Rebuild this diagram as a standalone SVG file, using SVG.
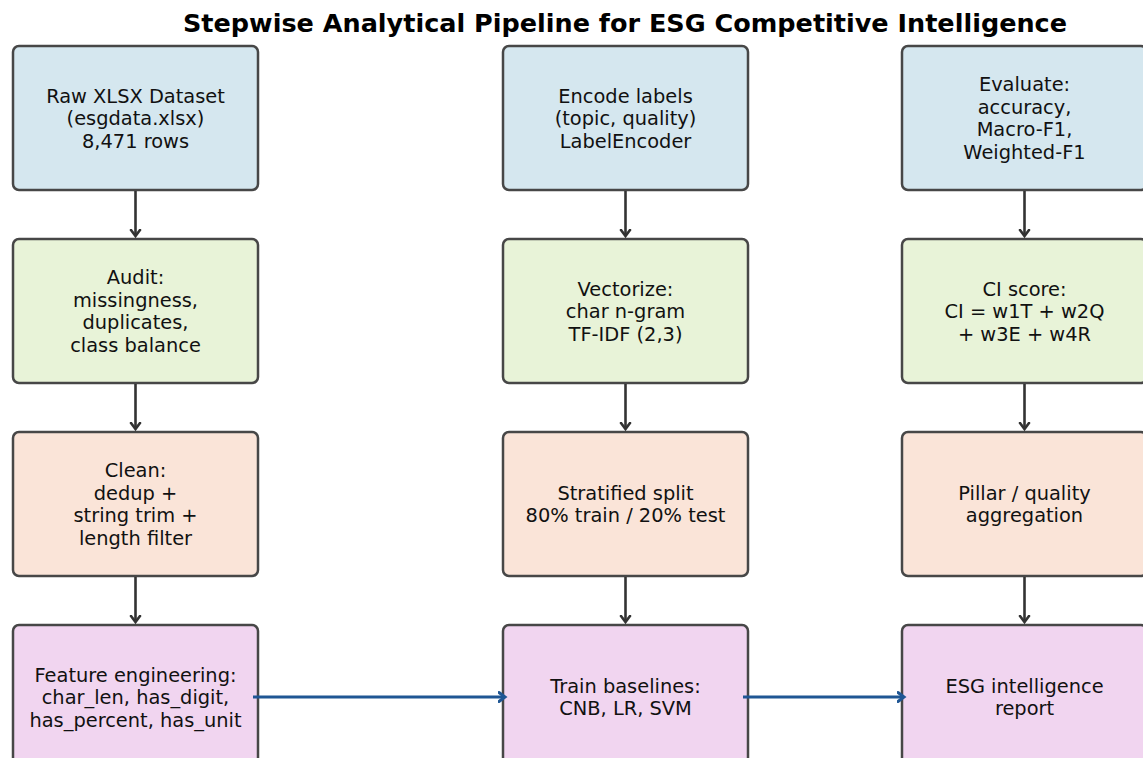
<svg xmlns="http://www.w3.org/2000/svg" width="1143" height="758" viewBox="0 0 1143 758">
<style>
.box{stroke:#474747;stroke-width:2.5}
.c1{fill:#d5e7ef}.c2{fill:#e8f3d8}.c3{fill:#fae4d8}.c4{fill:#f1d5f0}
text{font-family:"DejaVu Sans",sans-serif;font-size:19.4px;fill:#111;text-anchor:middle}
.title{font-size:25.5px;font-weight:bold;fill:#000}
.v{stroke:#333;stroke-width:2.6;fill:none}
.h{stroke:#1f5694;stroke-width:3;fill:none}
</style>
<defs>
<marker id="ad" markerWidth="14" markerHeight="14" viewBox="-7 -7 14 14" refX="0" refY="0" orient="auto" markerUnits="userSpaceOnUse">
<path d="M-6,-4.5 L0,0 L-6,4.5" fill="none" stroke="#333" stroke-width="2.6" stroke-linecap="round" stroke-linejoin="miter"/>
</marker>
<marker id="ab" markerWidth="14" markerHeight="14" viewBox="-7 -7 14 14" refX="0" refY="0" orient="auto" markerUnits="userSpaceOnUse">
<path d="M-6,-4.5 L0,0 L-6,4.5" fill="none" stroke="#1f5694" stroke-width="3" stroke-linecap="round"/>
</marker>
</defs>
<rect width="1143" height="758" fill="#fff"/>
<text class="title" x="625" y="32">Stepwise Analytical Pipeline for ESG Competitive Intelligence</text>

<g id="n1"><rect class="box c1" x="13" y="46" width="245" height="144" rx="6"/>
<text x="135.5" y="102.5">Raw XLSX Dataset</text><text x="135.5" y="125">(esgdata.xlsx)</text><text x="135.5" y="147.5">8,471 rows</text></g>
<g id="n2"><rect class="box c2" x="13" y="239" width="245" height="144" rx="6"/>
<text x="135.5" y="284.25">Audit:</text><text x="135.5" y="306.75">missingness,</text><text x="135.5" y="329.25">duplicates,</text><text x="135.5" y="351.75">class balance</text></g>
<g id="n3"><rect class="box c3" x="13" y="432" width="245" height="144" rx="6"/>
<text x="135.5" y="477.25">Clean:</text><text x="135.5" y="499.75">dedup +</text><text x="135.5" y="522.25">string trim +</text><text x="135.5" y="544.75">length filter</text></g>
<g id="n4"><rect class="box c4" x="13" y="625" width="245" height="144" rx="6"/>
<text x="135.5" y="681.5">Feature engineering:</text><text x="135.5" y="704">char_len, has_digit,</text><text x="135.5" y="726.5">has_percent, has_unit</text></g>

<g id="n5"><rect class="box c1" x="503" y="46" width="245" height="144" rx="6"/>
<text x="625.5" y="102.5">Encode labels</text><text x="625.5" y="125">(topic, quality)</text><text x="625.5" y="147.5">LabelEncoder</text></g>
<g id="n6"><rect class="box c2" x="503" y="239" width="245" height="144" rx="6"/>
<text x="625.5" y="295.5">Vectorize:</text><text x="625.5" y="318">char n-gram</text><text x="625.5" y="340.5">TF-IDF (2,3)</text></g>
<g id="n7"><rect class="box c3" x="503" y="432" width="245" height="144" rx="6"/>
<text x="625.5" y="499.75">Stratified split</text><text x="625.5" y="522.25">80% train / 20% test</text></g>
<g id="n8"><rect class="box c4" x="503" y="625" width="245" height="144" rx="6"/>
<text x="625.5" y="692.75">Train baselines:</text><text x="625.5" y="715.25">CNB, LR, SVM</text></g>

<g id="n9"><rect class="box c1" x="902" y="46" width="245" height="144" rx="6"/>
<text x="1024.5" y="91.25">Evaluate:</text><text x="1024.5" y="113.75">accuracy,</text><text x="1024.5" y="136.25">Macro-F1,</text><text x="1024.5" y="158.75">Weighted-F1</text></g>
<g id="n10"><rect class="box c2" x="902" y="239" width="245" height="144" rx="6"/>
<text x="1024.5" y="295.5">CI score:</text><text x="1024.5" y="318">CI = w1T + w2Q</text><text x="1024.5" y="340.5">+ w3E + w4R</text></g>
<g id="n11"><rect class="box c3" x="902" y="432" width="245" height="144" rx="6"/>
<text x="1024.5" y="499.75">Pillar / quality</text><text x="1024.5" y="522.25">aggregation</text></g>
<g id="n12"><rect class="box c4" x="902" y="625" width="245" height="144" rx="6"/>
<text x="1024.5" y="692.75">ESG intelligence</text><text x="1024.5" y="715.25">report</text></g>

<g id="connectors">
<line class="v" x1="135.5" y1="191" x2="135.5" y2="236" marker-end="url(#ad)"/>
<line class="v" x1="135.5" y1="384" x2="135.5" y2="429" marker-end="url(#ad)"/>
<line class="v" x1="135.5" y1="577" x2="135.5" y2="622" marker-end="url(#ad)"/>
<line class="v" x1="625.5" y1="191" x2="625.5" y2="236" marker-end="url(#ad)"/>
<line class="v" x1="625.5" y1="384" x2="625.5" y2="429" marker-end="url(#ad)"/>
<line class="v" x1="625.5" y1="577" x2="625.5" y2="622" marker-end="url(#ad)"/>
<line class="v" x1="1024.5" y1="191" x2="1024.5" y2="236" marker-end="url(#ad)"/>
<line class="v" x1="1024.5" y1="384" x2="1024.5" y2="429" marker-end="url(#ad)"/>
<line class="v" x1="1024.5" y1="577" x2="1024.5" y2="622" marker-end="url(#ad)"/>
<line class="h" x1="253" y1="697" x2="505" y2="697" marker-end="url(#ab)"/>
<line class="h" x1="743" y1="697" x2="904" y2="697" marker-end="url(#ab)"/>
</g>
</svg>
